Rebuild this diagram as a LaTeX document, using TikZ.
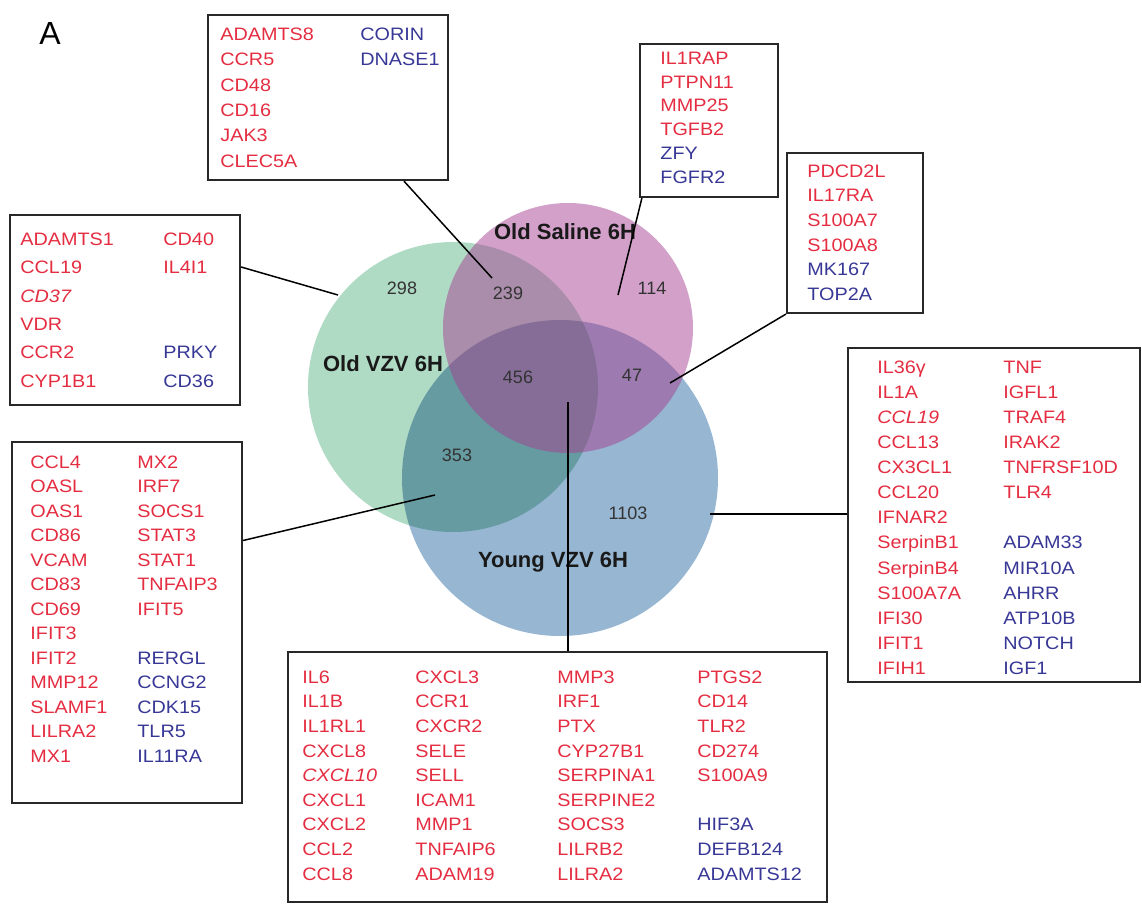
\documentclass[tikz,border=0pt]{standalone}
\usepackage{fontspec}
\setmainfont{Liberation Sans}
\newfontfamily\genefam[FakeStretch=1.1]{Liberation Sans}
\usetikzlibrary{fit}
\definecolor{genered}{RGB}{228,45,65}
\definecolor{geneblue}{RGB}{55,55,150}
\definecolor{vzvgreen}{RGB}{175,218,196}
\definecolor{salinepink}{RGB}{165,65,145}
\definecolor{youngblue}{RGB}{150,182,210}
\definecolor{boxgrey}{RGB}{40,40,40}
\newcommand{\gnfont}{\genefam\fontsize{9}{10}\selectfont}

\begin{document}
\begin{tikzpicture}[x=0.5pt,y=-0.5pt]
  \tikzstyle{trait}=[line width=0.75pt]
\tikzset{gene/.style={anchor=mid west,inner sep=0pt,text=#1,font=\gnfont},
gene/.default=genered,
liste/.style={draw=boxgrey,line width=1.1pt,inner sep=0pt},
ensemble/.style={circle,inner sep=0pt,fill=#1},
nom/.style={font=\fontsize{11}{12}\selectfont\bfseries,text=black!90},
effectif/.style={font=\fontsize{9}{10}\selectfont,text=black!80}}
\useasboundingbox (0,0) rectangle (1142,905);

\node[font=\fontsize{16}{18}\selectfont] (panel) at (50,33) {A};

% les trois ensembles
\begin{scope}[blend mode=multiply]
\node[ensemble=vzvgreen,minimum size=145pt] (oldvzv) at (453,387) {};
\node[ensemble=youngblue,minimum size=158pt] (youngvzv) at (560,478) {};
\end{scope}
\node[ensemble=salinepink,fill opacity=0.5,minimum size=125pt] (oldsaline) at (568,328) {};
\node[nom] (lsaline) at (565,232) {Old Saline 6H};
\node[nom] (lold) at (383,364) {Old VZV 6H};
\node[nom] (lyoung) at (553,562) {Young VZV 6H};

\node[effectif] (n298) at (402,288) {298};
\node[effectif] (n239) at (508,293) {239};
\node[effectif] (n114) at (652,288) {114};
\node[effectif] (n456) at (518,377) {456};
\node[effectif] (n47) at (632,375) {47};
\node[effectif] (n353) at (457,455) {353};
\node[effectif] (n1103) at (628,513) {1103};

\coordinate (p239) at (492,278);
\coordinate (p114) at (618,295);
\coordinate (p47) at (670,383);
\coordinate (p298) at (338,295);
\coordinate (p353) at (435,495);
\coordinate (p1103) at (710,514);
\coordinate (p456) at (568,402);

% listes de genes
\node[liste,fit={(208,15) (448,180)}] (topbox) {};
\foreach \g [count=\i from 0] in {ADAMTS8,CCR5,CD48,CD16,JAK3,CLEC5A}
  \node[gene] (top-r\i) at (220,35+25.4*\i) {\g};
\foreach \g [count=\i from 0] in {CORIN,DNASE1}
  \node[gene=geneblue] (top-b\i) at (360,35+25.4*\i) {\g};

\node[liste,fit={(640,44) (778,197)}] (saltbox) {};
\foreach \g [count=\i from 0] in {IL1RAP,PTPN11,MMP25,TGFB2}
  \node[gene] (salt-r\i) at (660,59+23.8*\i) {\g};
\foreach \g [count=\i from 4] in {ZFY,FGFR2}
  \node[gene=geneblue] (salt-b\i) at (660,59+23.8*\i) {\g};

\node[liste,fit={(787,153) (923,313)}] (pdbox) {};
\foreach \g [count=\i from 0] in {PDCD2L,IL17RA,S100A7,S100A8}
  \node[gene] (pd-r\i) at (807,172+24.6*\i) {\g};
\foreach \g [count=\i from 4] in {MK167,TOP2A}
  \node[gene=geneblue] (pd-b\i) at (807,172+24.6*\i) {\g};

\node[liste,fit={(10,215) (240,405)}] (vzvbox) {};
\foreach \g [count=\i from 0] in {ADAMTS1,CCL19,\textit{CD37},VDR,CCR2,CYP1B1}
  \node[gene] (vzv-r\i) at (20,240+28.4*\i) {\g};
\foreach \g [count=\i from 0] in {CD40,IL4I1}
  \node[gene] (vzv-s\i) at (163,240+28.4*\i) {\g};
\foreach \g [count=\i from 4] in {PRKY,CD36}
  \node[gene=geneblue] (vzv-b\i) at (163,240+28.4*\i) {\g};

\node[liste,fit={(12,442) (242,803)}] (gvbox) {};
\foreach \g [count=\i from 0] in {CCL4,OASL,OAS1,CD86,VCAM,CD83,CD69,IFIT3,IFIT2,MMP12,SLAMF1,LILRA2,MX1}
  \node[gene] (gv-r\i) at (30,463+24.5*\i) {\g};
\foreach \g [count=\i from 0] in {MX2,IRF7,SOCS1,STAT3,STAT1,TNFAIP3,IFIT5}
  \node[gene] (gv-s\i) at (137,463+24.5*\i) {\g};
\foreach \g [count=\i from 8] in {RERGL,CCNG2,CDK15,TLR5,IL11RA}
  \node[gene=geneblue] (gv-b\i) at (137,463+24.5*\i) {\g};

\node[liste,fit={(848,348) (1140,682)}] (youngbox) {};
\foreach \g [count=\i from 0] in {IL36γ,IL1A,\textit{CCL19},CCL13,CX3CL1,CCL20,IFNAR2,SerpinB1,SerpinB4,S100A7A,IFI30,IFIT1,IFIH1}
  \node[gene] (yg-r\i) at (877,368+25.1*\i) {\g};
\foreach \g [count=\i from 0] in {TNF,IGFL1,TRAF4,IRAK2,TNFRSF10D,TLR4}
  \node[gene] (yg-s\i) at (1003,368+25.1*\i) {\g};
\foreach \g [count=\i from 7] in {ADAM33,MIR10A,AHRR,ATP10B,NOTCH,IGF1}
  \node[gene=geneblue] (yg-b\i) at (1003,368+25.1*\i) {\g};

\node[liste,fit={(288,652) (827,902)}] (allbox) {};
\foreach \g [count=\i from 0] in {IL6,IL1B,IL1RL1,CXCL8,\textit{CXCL10},CXCL1,CXCL2,CCL2,CCL8}
  \node[gene] (all-a\i) at (302,678+24.6*\i) {\g};
\foreach \g [count=\i from 0] in {CXCL3,CCR1,CXCR2,SELE,SELL,ICAM1,MMP1,TNFAIP6,ADAM19}
  \node[gene] (all-b\i) at (415,678+24.6*\i) {\g};
\foreach \g [count=\i from 0] in {MMP3,IRF1,PTX,CYP27B1,SERPINA1,SERPINE2,SOCS3,LILRB2,LILRA2}
  \node[gene] (all-c\i) at (557,678+24.6*\i) {\g};
\foreach \g [count=\i from 0] in {PTGS2,CD14,TLR2,CD274,S100A9}
  \node[gene] (all-d\i) at (697,678+24.6*\i) {\g};
\foreach \g [count=\i from 6] in {HIF3A,DEFB124,ADAMTS12}
  \node[gene=geneblue] (all-e\i) at (697,678+24.6*\i) {\g};

\draw[trait] (topbox) -- (p239);
\draw[trait] ([xshift=1.5pt]saltbox.south west) -- (p114);
\draw[trait] (pdbox.south west) -- (p47);
\draw[trait] ([yshift=21.5pt]vzvbox.east) -- (p298);
\draw[trait] ([yshift=41pt]gvbox.east) -- (p353);
\draw[trait] (youngbox.west |- p1103) -- (p1103);
\draw[trait] (p456 |- allbox.north) -- (p456);

\end{tikzpicture}
\end{document}
